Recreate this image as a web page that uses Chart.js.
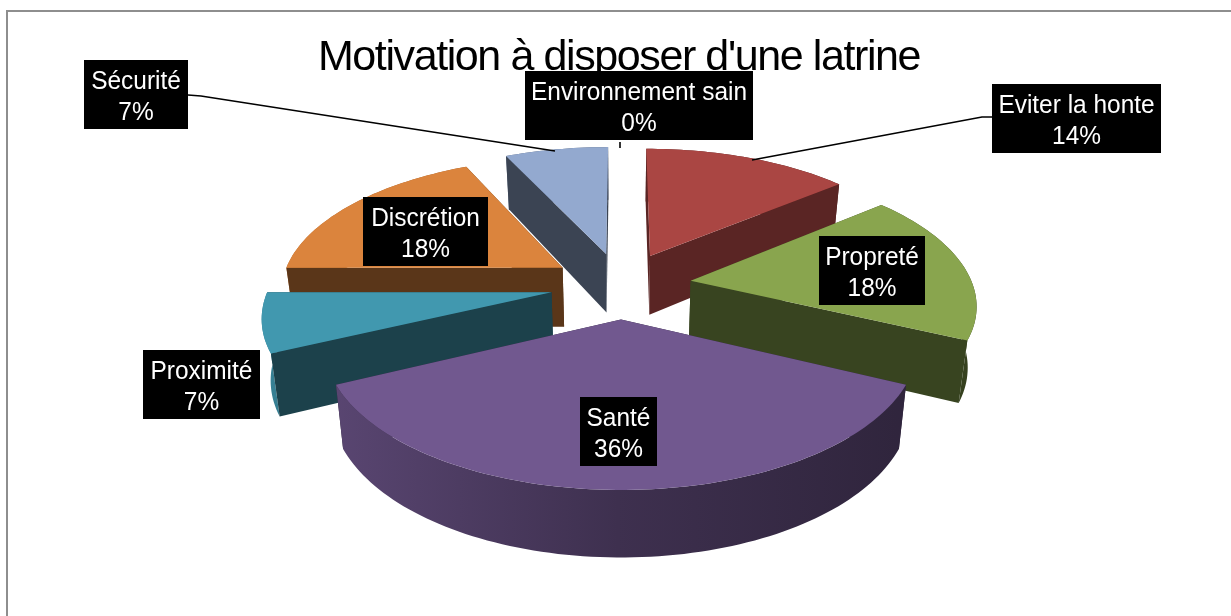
<!DOCTYPE html>
<html lang="fr">
<head>
<meta charset="utf-8">
<title>Motivation à disposer d'une latrine</title>
<script src="https://cdn.jsdelivr.net/npm/chart.js@4"></script>
<style>
html,body{margin:0;padding:0;background:#fff;overflow:hidden}
canvas{display:block}
</style>
</head>
<body>
<canvas id="c" width="1231" height="616"></canvas>
<script>
// ---- data ----
const categories = ["Environnement sain","Eviter la honte","Propreté","Santé","Proximité","Discrétion","Sécurité"];
const percentValues = [0,14,18,36,7,18,7];
const chartTitle = "Motivation à disposer d'une latrine";

// ---- styles and layout ----
const sliceColors = ["#4572A7","#AA4643","#89A54E","#71588F","#4198AF","#DB843D","#93A9CF"];
const sideShades = [0.41,0.53,0.41,0.41,0.43,0.41,0.40];
const labelBoxes = [[525,71,753,140],[992,84,1161,153],[819,236,925,305],[580,397,657,466],[143,350,260,419],[363,197,488,266],[84,60,188,129]];
const leaderLines = [
  [[620,142],[620,148]],
  [[992,117],[982,117],[752,160]],
  [],[],[],[],
  [[188,95],[201,96],[555,151]]
];
const VIEW = {cx:621, cy:285, fx:282, fy:132.2, p:0.155, floor:0.975};
const wallDepth = v => 60 + 6*v;

function project(u,v){
  const d = 1 - VIEW.p*v;
  return {x: VIEW.cx + VIEW.fx*u/d, y: VIEW.cy + VIEW.fy*v/d, v};
}
function shade(hex,f){
  const n = parseInt(hex.slice(1),16);
  return `rgb(${Math.round((n>>16&255)*f)},${Math.round((n>>8&255)*f)},${Math.round((n&255)*f)})`;
}
function polygon(ctx,pts){
  ctx.beginPath();
  pts.forEach((p,i)=> i ? ctx.lineTo(p.x,p.y) : ctx.moveTo(p.x,p.y));
  ctx.closePath();
}
const below = p => ({x:VIEW.cx+(p.x-VIEW.cx)*VIEW.floor, y:p.y + wallDepth(p.v)});

function drawSlice(ctx,arc,color,side){
  const {startAngle:a0,endAngle:a1,outerRadius:R,options} = arc;
  if (a1-a0 <= 0) return;
  const mid = (a0+a1)/2, e = options.offset/R;
  const ou = Math.cos(mid)*e, ov = Math.sin(mid)*e;
  const apex = project(ou,ov);
  const rim = [];
  const n = Math.max(8,Math.ceil((a1-a0)*40));
  for (let i=0;i<=n;i++){
    const a = a0+(a1-a0)*i/n;
    rim.push(project(ou+Math.cos(a),ov+Math.sin(a)));
  }
  const midRim = rim[Math.round(n/2)];
  // a radial wall shows only when the slice's top lies above it
  const facesViewer = p => {
    if (Math.abs(p.x-apex.x) < 1) return false;
    const yOnEdge = apex.y + (p.y-apex.y)*(midRim.x-apex.x)/(p.x-apex.x);
    return midRim.y < yOnEdge;
  };
  const radial = p => {
    polygon(ctx,[apex,p,below(p),below(apex)]);
    ctx.fillStyle = shade(color,side);
    ctx.fill();
  };
  const edges = [rim[0],rim[n]];
  edges.filter(p=>!facesViewer(p)).forEach(radial);
  // outer wall
  const g = ctx.createLinearGradient(260,0,975,0);
  g.addColorStop(0,shade(color,0.85));
  g.addColorStop(0.5,shade(color,0.55));
  g.addColorStop(1,shade(color,0.39));
  polygon(ctx,[...rim,...rim.slice().reverse().map(below)]);
  ctx.fillStyle = g; ctx.fill();
  edges.filter(facesViewer).forEach(radial);
  // top face
  polygon(ctx,[apex,...rim]);
  ctx.fillStyle = color; ctx.fill();
}

const pie3d = {
  id:'pie3d',
  beforeDraw(chart){
    const ctx = chart.ctx;
    ctx.save();
    ctx.fillStyle = '#8e8e8e';
    ctx.fillRect(6,10,chart.width-6,2);
    ctx.fillRect(6,10,2,chart.height-10);
    ctx.restore();
    ctx.letterSpacing = '-1.4px';   // the title is set tight
  },
  beforeDatasetsDraw(chart){ chart.ctx.letterSpacing = '0px'; },
  beforeDatasetDraw(chart,args){
    const ctx = chart.ctx;
    const arcs = args.meta.data.map((arc,i)=>({arc,i}));
    arcs.sort((A,B)=> Math.sin((A.arc.startAngle+A.arc.endAngle)/2) - Math.sin((B.arc.startAngle+B.arc.endAngle)/2));
    ctx.save();
    arcs.forEach(({arc,i})=>drawSlice(ctx,arc,sliceColors[i],sideShades[i]));
    ctx.restore();
    return false;
  },
  afterDatasetsDraw(chart){
    const ctx = chart.ctx;
    ctx.save();
    ctx.strokeStyle = '#000'; ctx.lineWidth = 1.6;
    leaderLines.forEach(l=>{
      if (!l.length) return;
      ctx.beginPath();
      l.forEach((p,i)=> i ? ctx.lineTo(p[0],p[1]) : ctx.moveTo(p[0],p[1]));
      ctx.stroke();
    });
    ctx.font = '26px "Liberation Sans"';
    ctx.textAlign = 'center'; ctx.textBaseline = 'middle';
    const squeeze = 0.94;
    categories.forEach((name,i)=>{
      const [x0,y0,x1,y1] = labelBoxes[i];
      ctx.fillStyle = '#000';
      ctx.fillRect(x0,y0,x1-x0,y1-y0);
      ctx.fillStyle = '#fff';
      ctx.save();
      ctx.translate((x0+x1)/2,y0);
      ctx.scale(squeeze,1);
      ctx.fillText(name,0,22);
      ctx.fillText(percentValues[i]+'%',0,53);
      ctx.restore();
    });
    ctx.restore();
  }
};

new Chart(document.getElementById('c'),{
  type:'pie',
  data:{labels:categories,datasets:[{data:percentValues,backgroundColor:sliceColors,offset:59.2,borderWidth:0}]},
  options:{
    responsive:false,animation:false,
    rotation:0,
    layout:{padding:{left:7}},
    events:[],
    plugins:{
      legend:{display:false},
      tooltip:{enabled:false},
      title:{display:true,text:chartTitle,color:'#000',
        font:{family:'"Liberation Sans"',size:43,weight:'normal',lineHeight:1.2},
        padding:{top:32,bottom:0}}
    }
  },
  plugins:[pie3d]
});
</script>
</body>
</html>
